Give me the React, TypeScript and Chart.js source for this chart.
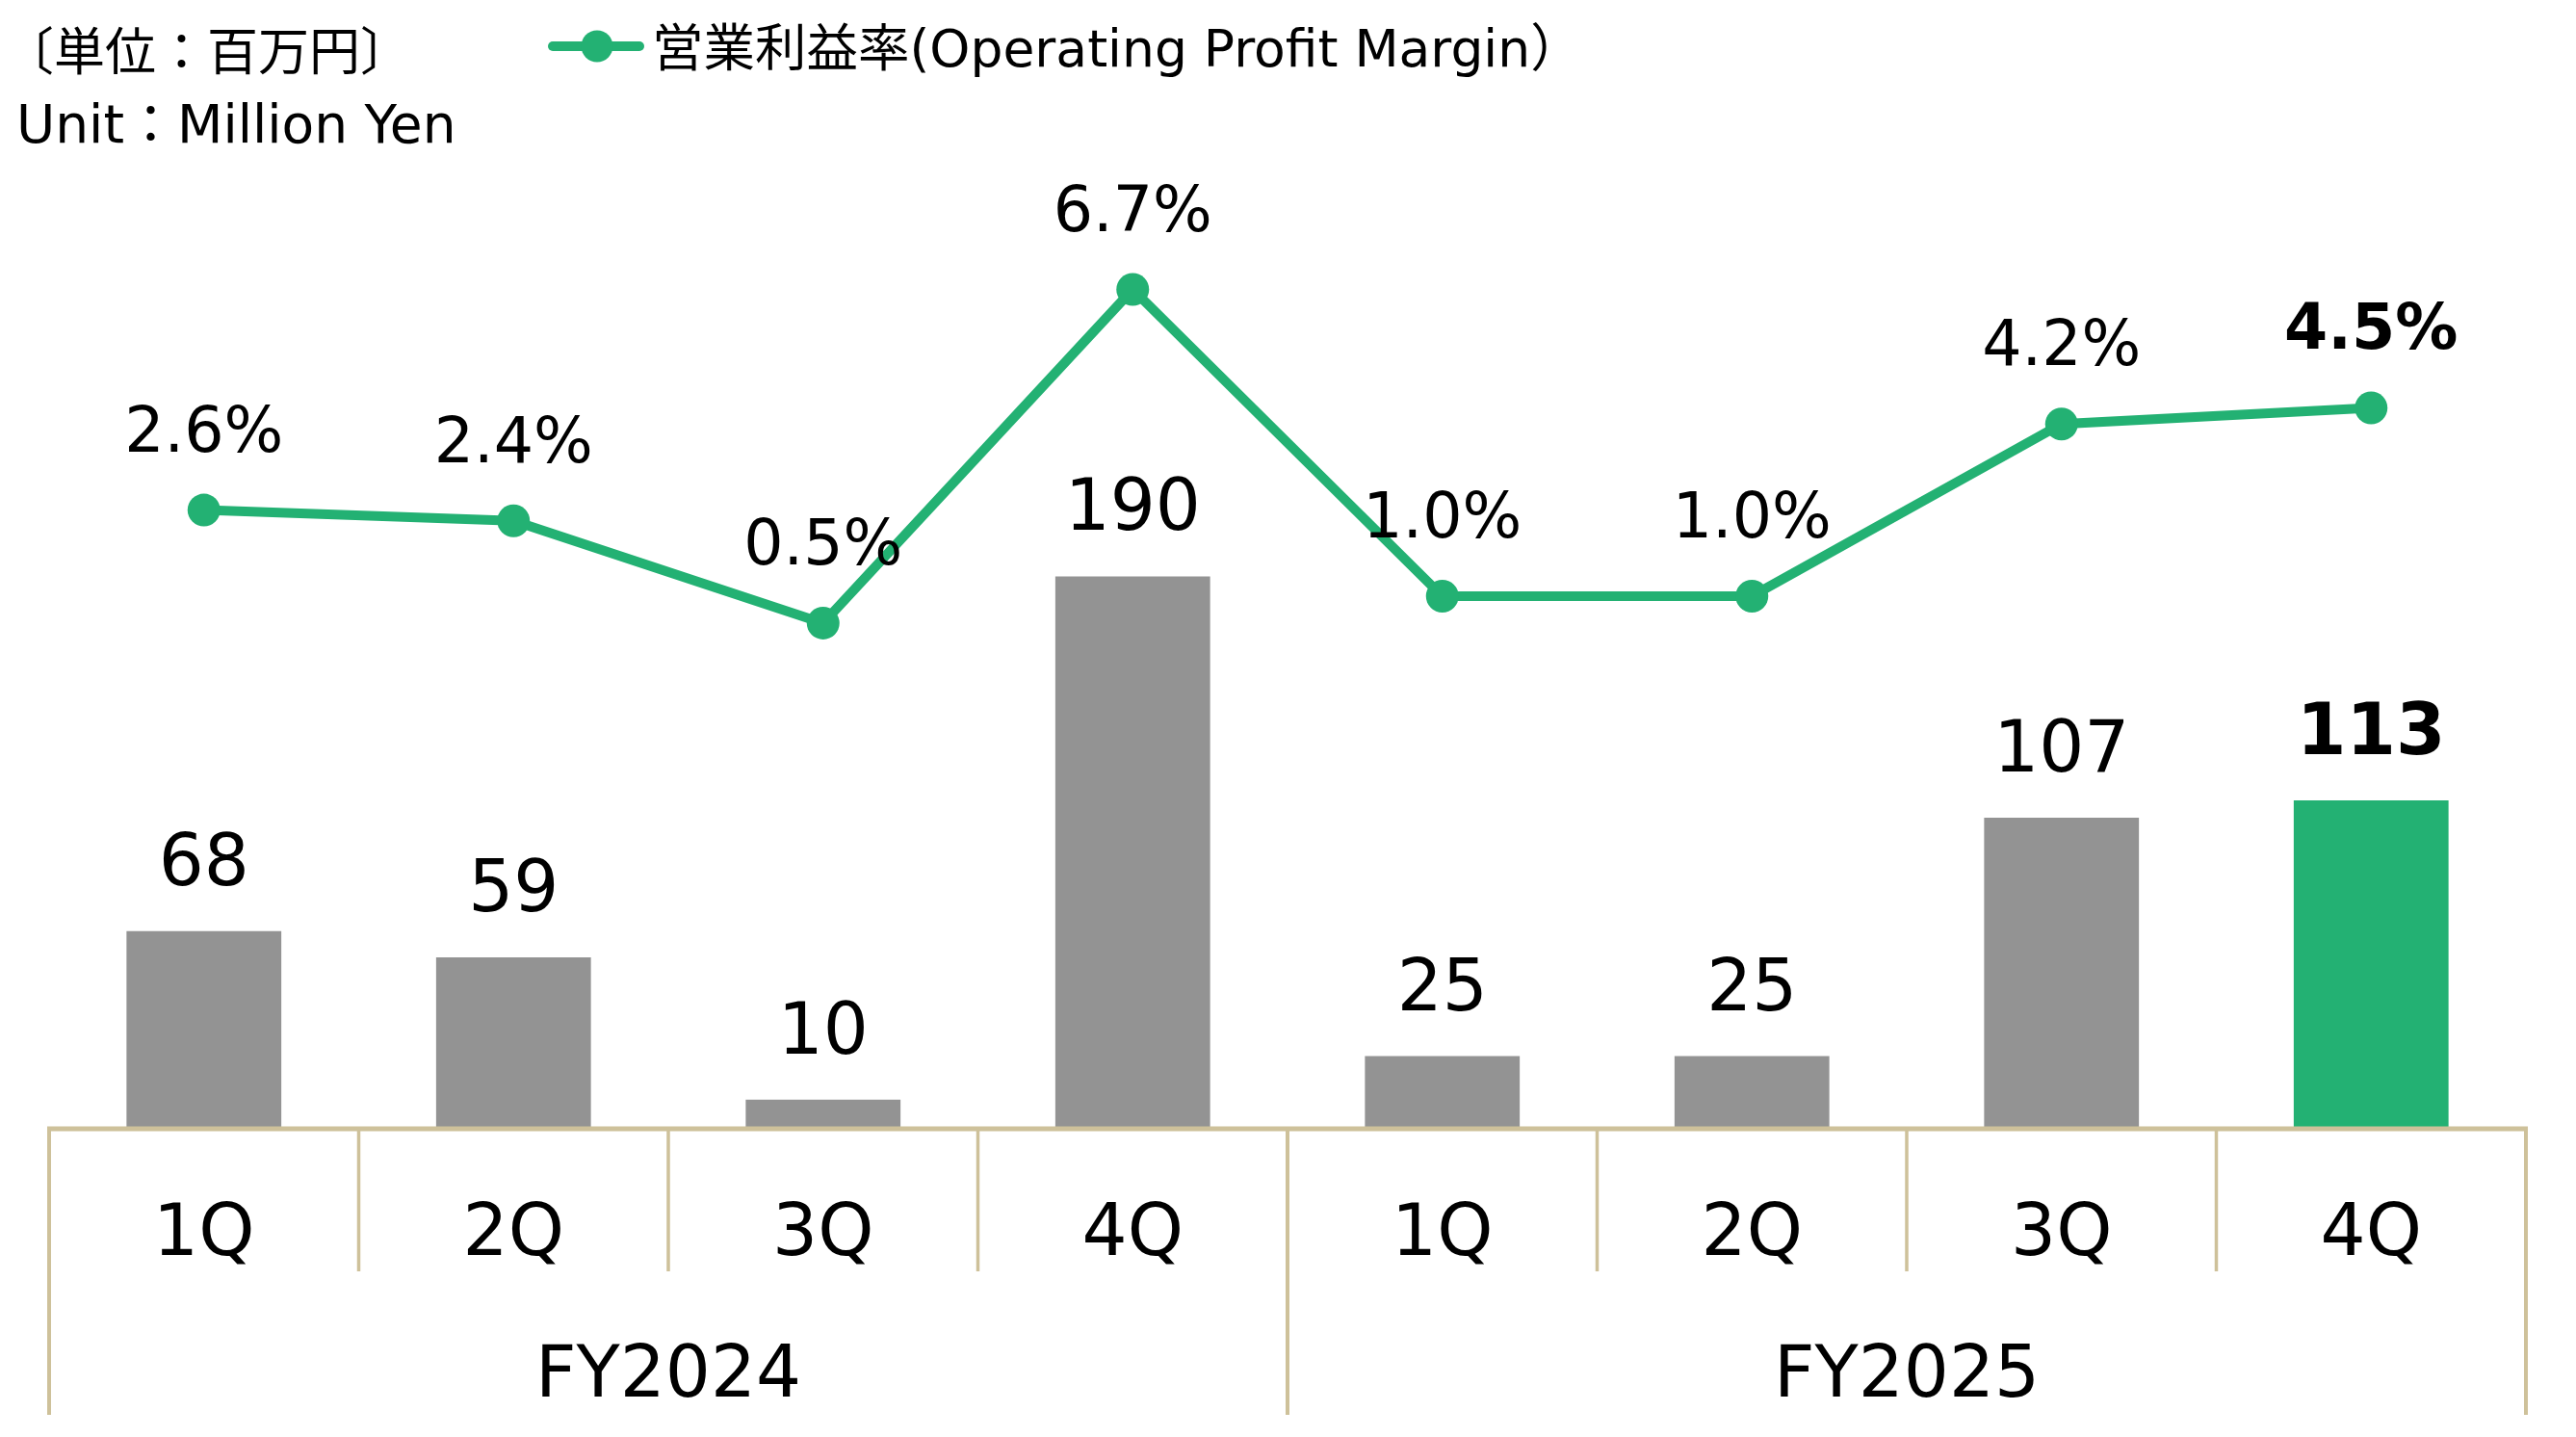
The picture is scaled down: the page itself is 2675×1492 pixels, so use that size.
import { useEffect, useRef } from 'react';
import { Chart, registerables } from 'chart.js';

Chart.register(...registerables);

// ---- data ----
const quarters = ['1Q', '2Q', '3Q', '4Q', '1Q', '2Q', '3Q', '4Q'];
const fiscalYears = ['FY2024', 'FY2025'];
const quartersPerYear = 4;
const operatingProfit = [68, 59, 10, 190, 25, 25, 107, 113];
const profitMargin = [2.6, 2.4, 0.5, 6.7, 1.0, 1.0, 4.2, 4.5];
const unitLabelJa = '〔単位：百万円〕';
const unitLabelEn = 'Unit：Million Yen';
const legendLabel = '営業利益率(Operating Profit Margin）';

// ---- styles ----
const GREEN = '#23B173';
const GRAY = '#939393';
const TAN = '#CEC19A';
const FONT = '"DejaVu Sans", "Noto Sans CJK JP", sans-serif';
const CJK_FONT = '"Noto Sans CJK JP", "DejaVu Sans", sans-serif';

const W = 2675;
const H = 1492;

const decorPlugin = {
  id: 'decor',
  afterDraw(chart: any) {
    const ctx = chart.ctx as CanvasRenderingContext2D;
    const x = chart.scales.x;
    const area = chart.chartArea;
    const n = quarters.length;
    const half = (x.getPixelForValue(1) - x.getPixelForValue(0)) / 2;
    const bottom = area.bottom;
    const boundary = (i: number) =>
      i < n ? x.getPixelForValue(i) - half : x.getPixelForValue(n - 1) + half;

    ctx.save();
    // vertical dividers
    ctx.strokeStyle = TAN;
    for (let i = 0; i <= n; i++) {
      const bx = boundary(i);
      const isYear = i % quartersPerYear === 0;
      ctx.lineWidth = isYear ? 4 : 3.5;
      ctx.beginPath();
      ctx.moveTo(bx, bottom);
      ctx.lineTo(bx, bottom + (isYear ? 297 : 148));
      ctx.stroke();
    }
    // axis line
    ctx.lineWidth = 5;
    ctx.beginPath();
    ctx.moveTo(boundary(0) - 2, bottom);
    ctx.lineTo(boundary(n) + 2, bottom);
    ctx.stroke();

    // quarter labels
    ctx.fillStyle = '#000';
    ctx.textAlign = 'center';
    ctx.textBaseline = 'alphabetic';
    ctx.font = `74px ${FONT}`;
    quarters.forEach((q, i) => {
      ctx.fillText(q, x.getPixelForValue(i), bottom + 131);
    });
    // fiscal year labels
    fiscalYears.forEach((fy, k) => {
      const cx = (boundary(k * quartersPerYear) + boundary((k + 1) * quartersPerYear)) / 2;
      ctx.fillText(fy, cx, bottom + 278);
    });

    // bar value labels
    const barMeta = chart.getDatasetMeta(1);
    barMeta.data.forEach((bar: any, i: number) => {
      const last = i === n - 1;
      ctx.font = `${last ? 'bold ' : ''}74px ${FONT}`;
      ctx.fillText(String(operatingProfit[i]), bar.x, bar.y - 48);
    });
    // margin labels
    const lineMeta = chart.getDatasetMeta(0);
    lineMeta.data.forEach((pt: any, i: number) => {
      const last = i === n - 1;
      ctx.font = `${last ? 'bold ' : ''}65px ${FONT}`;
      ctx.fillText(profitMargin[i].toFixed(1) + '%', pt.x, pt.y - 61);
    });

    // unit labels
    ctx.textAlign = 'left';
    ctx.font = `53px ${CJK_FONT}`;
    ctx.fillText(unitLabelJa, 3, 73);
    ctx.font = `55px ${FONT}`;
    ctx.fillText(unitLabelEn, 17, 148);

    // legend
    ctx.strokeStyle = GREEN;
    ctx.lineWidth = 10;
    ctx.lineCap = 'round';
    ctx.beginPath();
    ctx.moveTo(574, 48);
    ctx.lineTo(664, 48);
    ctx.stroke();
    ctx.fillStyle = GREEN;
    ctx.beginPath();
    ctx.arc(620, 48, 16.5, 0, Math.PI * 2);
    ctx.fill();
    ctx.fillStyle = '#000';
    ctx.font = `53.5px ${FONT}`;
    ctx.fillText(legendLabel, 677, 69);
    ctx.restore();
  },
};

export default function App() {
  const ref = useRef<HTMLCanvasElement | null>(null);

  useEffect(() => {
    if (!ref.current) return;
    const chart = new Chart(ref.current, {
      type: 'bar',
      data: {
        labels: quarters,
        datasets: [
          {
            type: 'line',
            label: legendLabel,
            data: profitMargin,
            yAxisID: 'y1',
            borderColor: GREEN,
            backgroundColor: GREEN,
            borderWidth: 10,
            pointRadius: 17,
            pointBackgroundColor: GREEN,
            pointBorderWidth: 0,
            tension: 0,
            order: 0,
            clip: false,
          } as any,
          {
            type: 'bar',
            label: 'Operating Profit',
            data: operatingProfit,
            yAxisID: 'y',
            backgroundColor: operatingProfit.map((_, i) =>
              i === operatingProfit.length - 1 ? GREEN : GRAY
            ),
            borderWidth: 0,
            barPercentage: 0.5,
            categoryPercentage: 1,
            order: 1,
          },
        ],
      },
      options: {
        responsive: false,
        animation: false,
        events: [],
        layout: { padding: { top: 200, bottom: H - 1172, left: 51, right: W - 2623 } },
        plugins: { legend: { display: false }, tooltip: { enabled: false }, title: { display: false } },
        scales: {
          x: { display: false, offset: true },
          y: { display: false, min: 0, max: 322 },
          y1: { display: false, min: -8.9, max: 8.5, position: 'right' },
        },
      },
      plugins: [decorPlugin],
    });
    return () => chart.destroy();
  }, []);

  return (
    <div style={{ position: 'absolute', left: 0, top: 0, width: W, height: H, background: '#fff' }}>
      <canvas ref={ref} width={W} height={H} style={{ display: 'block', width: W, height: H }} />
    </div>
  );
}
